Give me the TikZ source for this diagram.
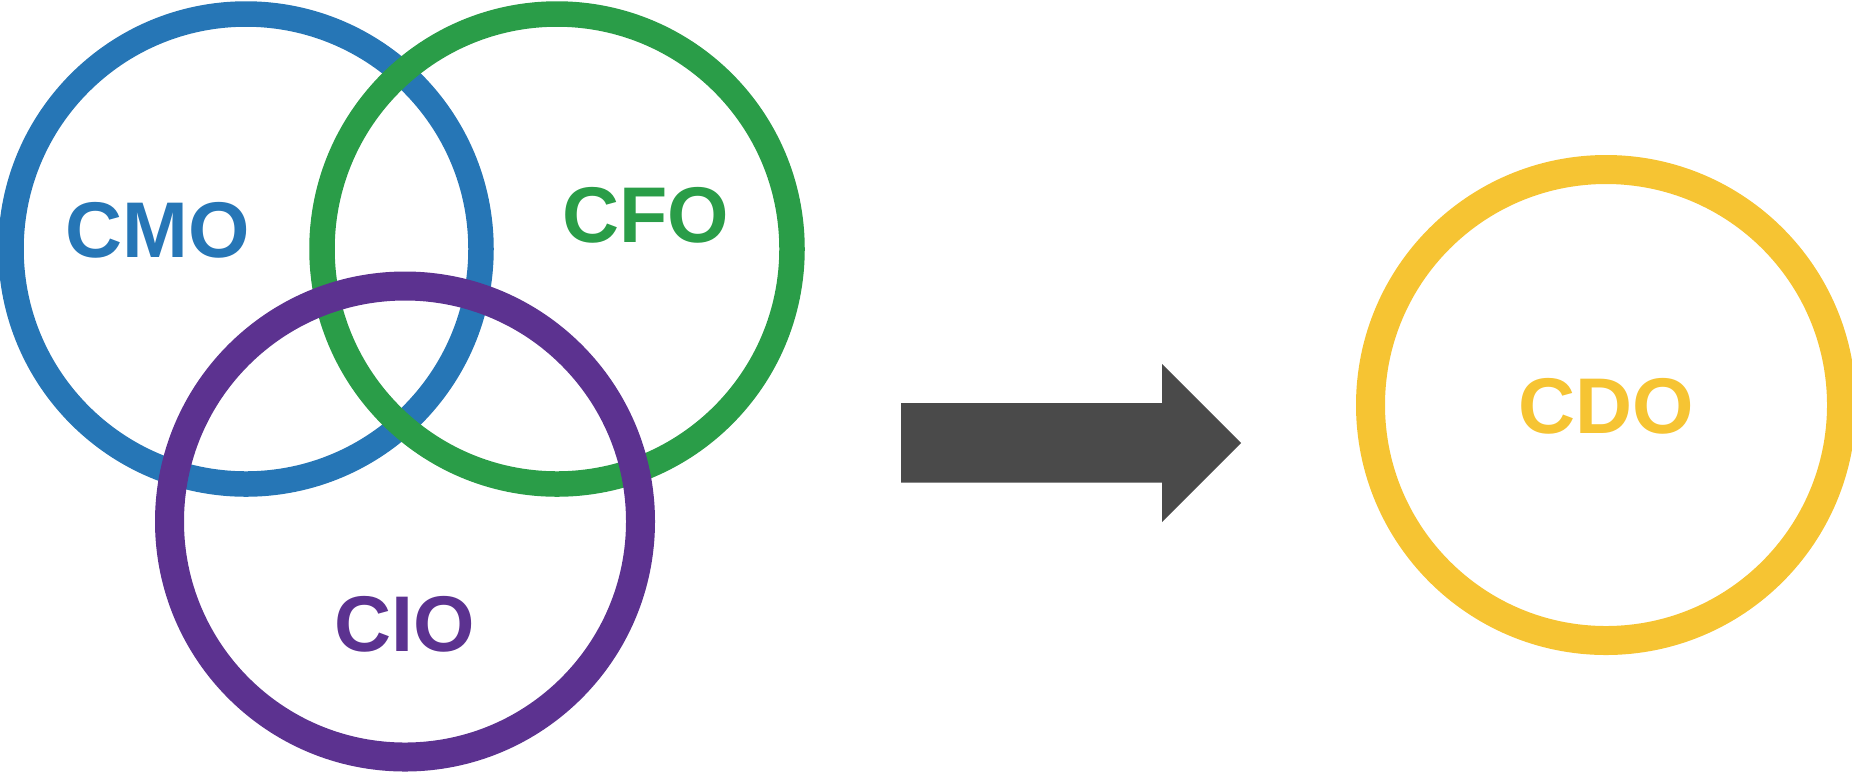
\documentclass[tikz,border=0pt]{standalone}
\usepackage{fontspec}
\setmainfont{Liberation Sans}
\begin{document}
\begin{tikzpicture}[x=0.5pt,y=-0.5pt,
  ring/.style={circle, draw=#1, line width=12.75pt, minimum size=235pt, inner sep=0pt},
  thickring/.style={circle, draw=#1, line width=14.5pt, minimum size=235.5pt, inner sep=0pt},
  role/.style={text=#1, font=\fontsize{39.5}{39.5}\selectfont\bfseries, inner sep=0pt}]
\definecolor{cmoblue}{RGB}{38,118,182}
\definecolor{cfogreen}{RGB}{42,157,72}
\definecolor{ciopurple}{RGB}{92,50,144}
\definecolor{cdoyellow}{RGB}{246,196,51}
\definecolor{arrowgray}{RGB}{74,74,74}
\useasboundingbox (0,0) rectangle (1852,773);
% the three overlapping roles
\node[ring=cmoblue] (cmo) at (246,249) {};
\node[ring=cfogreen] (cfo) at (557,249) {};
\node[thickring=ciopurple] (cio) at (405,521.5) {};
\node[role=cmoblue] (cmotext) at (158,230) {CMO};
\node[role=cfogreen] (cfotext) at (646,215) {CFO};
\node[role=ciopurple] (ciotext) at (405,624) {CIO};
% block arrow
\fill[arrowgray] (901,403) -- (1162,403) -- (1162,364) -- (1241,443)
  -- (1162,522) -- (1162,482.5) -- (901,482.5) -- cycle;
% the combined role
\node[thickring=cdoyellow] (cdo) at (1606,405) {};
\node[role=cdoyellow] (cdotext) at (1606,406) {CDO};
\end{tikzpicture}
\end{document}
